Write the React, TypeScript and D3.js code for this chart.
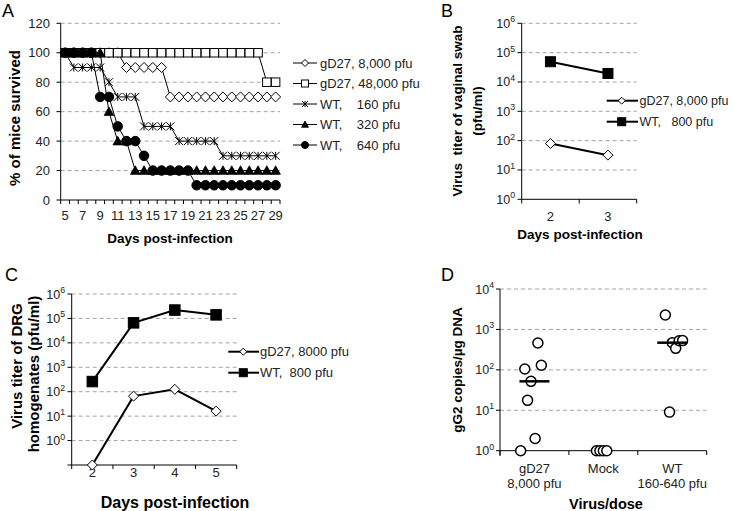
import React from 'react';
import * as d3 from 'd3';

// ---------- Panel A data ----------
const daysA = [5, 6, 7, 8, 9, 10, 11, 12, 13, 14, 15, 16, 17, 18, 19, 20, 21, 22, 23, 24, 25, 26, 27, 28, 29];
const gD27_8000 = [100, 100, 100, 100, 100, 100, 100, 90, 90, 90, 90, 90, 70, 70, 70, 70, 70, 70, 70, 70, 70, 70, 70, 70, 70];
const gD27_48000 = [100, 100, 100, 100, 100, 100, 100, 100, 100, 100, 100, 100, 100, 100, 100, 100, 100, 100, 100, 100, 100, 100, 100, 80, 80];
const wt160 = [100, 90, 90, 90, 90, 80, 70, 70, 70, 50, 50, 50, 50, 40, 40, 40, 40, 40, 30, 30, 30, 30, 30, 30, 30];
const wt320 = [100, 100, 100, 100, 100, 60, 40, 40, 20, 20, 20, 20, 20, 20, 20, 20, 20, 20, 20, 20, 20, 20, 20, 20, 20];
const wt640 = [100, 100, 100, 100, 70, 70, 50, 40, 40, 30, 20, 20, 20, 20, 20, 10, 10, 10, 10, 10, 10, 10, 10, 10, 10];
const ticksA = [0, 20, 40, 60, 80, 100, 120];
const legendA = ['gD27, 8,000 pfu', 'gD27, 48,000 pfu', 'WT,    160 pfu', 'WT,    320 pfu', 'WT,    640 pfu'];

// ---------- Panel B data ----------
const daysB = ['2', '3'];
const bGD27 = [80, 32];
const bWT = [49000, 19500];
const legendB = ['gD27, 8,000 pfu', 'WT,   800 pfu'];

// ---------- Panel C data ----------
const daysC = ['2', '3', '4', '5'];
const cGD27 = [0.1, 66, 125, 16];
const cWT = [260, 66000, 220000, 140000];
const legendC = ['gD27, 8000 pfu', 'WT,  800 pfu'];

// ---------- Panel D data ----------
const groupsD = ['gD27', 'Mock', 'WT'];
const groupLabels1 = ['gD27', 'Mock', 'WT'];
const groupLabels2 = ['8,000 pfu', '', '160-640 pfu'];
const dGD27 = [1, 2, 17.6, 52, 105, 130, 460];
const dGD27Jitter = [-0.2, 0.01, -0.1, -0.05, -0.14, 0.1, 0.05];
const dMock = [1, 1, 1, 1];
const dMockJitter = [-0.1, -0.05, 0, 0.05];
const dWT = [2270, 9, 470, 340, 525, 530];
const dWTJitter = [-0.1, -0.04, 0, 0.05, 0.1, 0.15];
const dMedians = [52, null, 470];

const FONT = '"Liberation Sans", Arial, Helvetica, sans-serif';
const GRID = '#9a9a9a';

type MarkerKind = 'diamond' | 'square' | 'star' | 'triangle' | 'circle';

function Marker({ kind, x, y, s, fill }: { kind: MarkerKind; x: number; y: number; s: number; fill: string }) {
  const h = s / 2;
  if (kind === 'diamond')
    return <path d={`M${x},${y - h}L${x + h},${y}L${x},${y + h}L${x - h},${y}Z`} fill={fill} stroke="#000" strokeWidth={1} />;
  if (kind === 'square')
    return <rect x={x - h} y={y - h} width={s} height={s} fill={fill} stroke="#000" strokeWidth={1} />;
  if (kind === 'triangle')
    return <path d={`M${x},${y - h}L${x + h},${y + h * 0.8}L${x - h},${y + h * 0.8}Z`} fill="#000" stroke="#000" strokeWidth={0.8} />;
  if (kind === 'circle') return <circle cx={x} cy={y} r={h} fill="#000" stroke="#000" />;
  return (
    <path
      d={`M${x - h},${y - h}L${x + h},${y + h}M${x - h},${y + h}L${x + h},${y - h}M${x},${y - h}L${x},${y + h}`}
      stroke="#000"
      strokeWidth={1}
      fill="none"
    />
  );
}

function Pow({ x, y, e, size = 12.5 }: { x: number; y: number; e: number; size?: number }) {
  return (
    <text x={x} y={y} textAnchor="end" fontSize={size} fill="#222">
      10
      <tspan dy={-5.5} fontSize={size * 0.7}>
        {e}
      </tspan>
    </text>
  );
}

function PanelA() {
  const x = d3.scaleBand<number>().domain(daysA).range([60.7, 280]).padding(0);
  const y = d3.scaleLinear().domain([0, 120]).range([200, 23.3]);
  const cx = (d: number) => (x(d) as number) + x.bandwidth() / 2;
  const series: { vals: number[]; kind: MarkerKind; fill: string; s: number }[] = [
    { vals: gD27_8000, kind: 'diamond', fill: '#fff', s: 10 },
    { vals: gD27_48000, kind: 'square', fill: '#fff', s: 8.5 },
    { vals: wt160, kind: 'star', fill: '#000', s: 8 },
    { vals: wt320, kind: 'triangle', fill: '#000', s: 9.5 },
    { vals: wt640, kind: 'circle', fill: '#000', s: 9.5 },
  ];
  const line = d3
    .line<number>()
    .x((_, i) => cx(daysA[i]))
    .y((v) => y(v));
  const boundaries = [...daysA.map((d) => x(d) as number), 280];
  return (
    <g fontFamily={FONT}>
      <text x={2} y={17} fontSize={18} fill="#000">A</text>
      {ticksA.filter((t) => t > 0).map((t) => (
        <line key={t} x1={60.7} x2={280} y1={y(t)} y2={y(t)} stroke={GRID} strokeDasharray="4,3" strokeWidth={0.9} />
      ))}
      <line x1={60.7} x2={60.7} y1={y(120)} y2={y(0)} stroke="#000" strokeWidth={1} />
      <line x1={60.7} x2={280} y1={y(0)} y2={y(0)} stroke="#000" strokeWidth={1} />
      {ticksA.map((t) => (
        <g key={t}>
          <line x1={56.5} x2={60.7} y1={y(t)} y2={y(t)} stroke="#000" />
          <text x={50} y={y(t) + 4.5} textAnchor="end" fontSize={13} fill="#222">{t}</text>
        </g>
      ))}
      {boundaries.map((b, i) => (
        <line key={i} x1={b} x2={b} y1={y(0)} y2={y(0) + 4} stroke="#000" />
      ))}
      {daysA.filter((d) => d % 2 === 1).map((d) => (
        <text key={d} x={cx(d)} y={219.5} textAnchor="middle" fontSize={13} fill="#222">{d}</text>
      ))}
      <text x={170} y={243} textAnchor="middle" fontSize={13.5} fontWeight="bold">Days post-infection</text>
      <text transform="translate(20,118) rotate(-90)" textAnchor="middle" fontSize={15} fontWeight="bold">% of mice survived</text>
      {series.map((s, si) => (
        <g key={si}>
          <path d={line(s.vals) as string} fill="none" stroke="#000" strokeWidth={1} />
          {s.vals.map((v, i) => (
            <Marker key={i} kind={s.kind} x={cx(daysA[i])} y={y(v)} s={s.s} fill={s.fill} />
          ))}
        </g>
      ))}
      {legendA.map((lab, i) => {
        const ly = 63 + i * 20.5;
        return (
          <g key={i}>
            <line x1={293} x2={317} y1={ly} y2={ly} stroke="#000" strokeWidth={1} />
            <Marker kind={series[i].kind} x={305} y={ly} s={series[i].kind === 'star' ? 6 : 7} fill={series[i].fill} />
            <text x={320} y={ly + 4.5} fontSize={13} fill="#222" style={{ whiteSpace: 'pre' }}>{lab}</text>
          </g>
        );
      })}
    </g>
  );
}

function PanelB() {
  const x = d3.scaleBand<string>().domain(daysB).range([521.7, 636.7]).padding(0);
  const y = d3.scaleLog().domain([1, 1e6]).range([199.3, 23.3]);
  const cx = (d: string) => (x(d) as number) + x.bandwidth() / 2;
  const decades = [0, 1, 2, 3, 4, 5, 6];
  const line = d3
    .line<number>()
    .x((_, i) => cx(daysB[i]))
    .y((v) => y(v));
  const bounds = [...daysB.map((d) => x(d) as number), 636.7];
  return (
    <g fontFamily={FONT}>
      <text x={441} y={17} fontSize={18}>B</text>
      {decades.filter((e) => e > 0).map((e) => (
        <line key={e} x1={521.7} x2={636.7} y1={y(10 ** e)} y2={y(10 ** e)} stroke={GRID} strokeDasharray="4,3" strokeWidth={0.9} />
      ))}
      <line x1={521.7} x2={521.7} y1={23.3} y2={199.3} stroke="#000" />
      <line x1={521.7} x2={636.7} y1={199.3} y2={199.3} stroke="#000" />
      {decades.map((e) => (
        <g key={e}>
          <line x1={517.5} x2={521.7} y1={y(10 ** e)} y2={y(10 ** e)} stroke="#000" />
          <Pow x={515} y={y(10 ** e) + 4.5} e={e} />
        </g>
      ))}
      {bounds.map((b, i) => (
        <line key={i} x1={b} x2={b} y1={199.3} y2={203.5} stroke="#000" />
      ))}
      {daysB.map((d) => (
        <text key={d} x={cx(d)} y={221} textAnchor="middle" fontSize={13} fill="#222">{d}</text>
      ))}
      <text x={580} y={239} textAnchor="middle" fontSize={13.5} fontWeight="bold">Days post-infection</text>
      <text transform="translate(462,111) rotate(-90)" textAnchor="middle" fontSize={13.5} fontWeight="bold" style={{ whiteSpace: 'pre' }}>Virus  titer of vaginal swab</text>
      <text transform="translate(482,111) rotate(-90)" textAnchor="middle" fontSize={13.5} fontWeight="bold">(pfu/ml)</text>
      <path d={line(bGD27) as string} fill="none" stroke="#000" strokeWidth={2} />
      <path d={line(bWT) as string} fill="none" stroke="#000" strokeWidth={2} />
      {bGD27.map((v, i) => (
        <Marker key={'g' + i} kind="diamond" x={cx(daysB[i])} y={y(v)} s={10} fill="#fff" />
      ))}
      {bWT.map((v, i) => (
        <Marker key={'w' + i} kind="square" x={cx(daysB[i])} y={y(v)} s={10} fill="#000" />
      ))}
      {legendB.map((lab, i) => {
        const ly = 100.7 + i * 21;
        return (
          <g key={i}>
            <line x1={606.7} x2={638} y1={ly} y2={ly} stroke="#000" strokeWidth={2} />
            <Marker kind={i === 0 ? 'diamond' : 'square'} x={621.7} y={ly} s={i === 0 ? 7 : 8} fill={i === 0 ? '#fff' : '#000'} />
            <text x={639.5} y={ly + 4.5} fontSize={12.5} fill="#222" style={{ whiteSpace: 'pre' }}>{lab}</text>
          </g>
        );
      })}
    </g>
  );
}

function PanelC() {
  const x = d3.scaleBand<string>().domain(daysC).range([71.7, 236.7]).padding(0);
  const y = d3.scaleLog().domain([0.1, 1e6]).range([465, 294]);
  const cx = (d: string) => (x(d) as number) + x.bandwidth() / 2;
  const decades = [0, 1, 2, 3, 4, 5, 6];
  const line = d3
    .line<number>()
    .x((_, i) => cx(daysC[i]))
    .y((v) => y(v));
  const bounds = [...daysC.map((d) => x(d) as number), 236.7];
  return (
    <g fontFamily={FONT}>
      <text x={5} y={281} fontSize={18}>C</text>
      {decades.map((e) => (
        <line key={e} x1={71.7} x2={236.7} y1={y(10 ** e)} y2={y(10 ** e)} stroke={GRID} strokeDasharray="4,3" strokeWidth={0.9} />
      ))}
      <line x1={71.7} x2={71.7} y1={294} y2={465} stroke="#000" />
      <line x1={71.7} x2={236.7} y1={465} y2={465} stroke="#000" />
      {[-1, ...decades].map((e) => (
        <line key={e} x1={67.5} x2={71.7} y1={y(10 ** e)} y2={y(10 ** e)} stroke="#000" />
      ))}
      {decades.map((e) => (
        <Pow key={e} x={65} y={y(10 ** e) + 4.5} e={e} />
      ))}
      {bounds.map((b, i) => (
        <line key={i} x1={b} x2={b} y1={465} y2={469} stroke="#000" />
      ))}
      {daysC.map((d) => (
        <text key={d} x={cx(d)} y={477} textAnchor="middle" fontSize={13} fill="#222">{d}</text>
      ))}
      <text x={175} y={508} textAnchor="middle" fontSize={16} fontWeight="bold">Days post-infection</text>
      <text transform="translate(22,366) rotate(-90)" textAnchor="middle" fontSize={15} fontWeight="bold">Virus titer of DRG</text>
      <text transform="translate(39,374) rotate(-90)" textAnchor="middle" fontSize={15} fontWeight="bold">homogenates (pfu/ml)</text>
      <path d={line(cGD27) as string} fill="none" stroke="#000" strokeWidth={2} />
      <path d={line(cWT) as string} fill="none" stroke="#000" strokeWidth={2} />
      {cGD27.map((v, i) => (
        <Marker key={'g' + i} kind="diamond" x={cx(daysC[i])} y={y(v)} s={10} fill="#fff" />
      ))}
      {cWT.map((v, i) => (
        <Marker key={'w' + i} kind="square" x={cx(daysC[i])} y={y(v)} s={10.5} fill="#000" />
      ))}
      {legendC.map((lab, i) => {
        const ly = 351.7 + i * 21;
        return (
          <g key={i}>
            <line x1={228.3} x2={259} y1={ly} y2={ly} stroke="#000" strokeWidth={2} />
            <Marker kind={i === 0 ? 'diamond' : 'square'} x={243.3} y={ly} s={i === 0 ? 7 : 8} fill={i === 0 ? '#fff' : '#000'} />
            <text x={260} y={ly + 4.5} fontSize={13} fill="#222" style={{ whiteSpace: 'pre' }}>{lab}</text>
          </g>
        );
      })}
    </g>
  );
}

function PanelD() {
  const x = d3.scaleBand<string>().domain(groupsD).range([500, 706.7]).padding(0);
  const y = d3.scaleLog().domain([1, 1e4]).range([450.7, 289]);
  const bw = x.bandwidth();
  const cx = (g: string) => (x(g) as number) + bw / 2;
  const decades = [0, 1, 2, 3, 4];
  const groups = [
    { g: 'gD27', vals: dGD27, jit: dGD27Jitter },
    { g: 'Mock', vals: dMock, jit: dMockJitter },
    { g: 'WT', vals: dWT, jit: dWTJitter },
  ];
  const bounds = [...groupsD.map((d) => x(d) as number), 706.7];
  return (
    <g fontFamily={FONT}>
      <text x={441} y={281} fontSize={18}>D</text>
      {decades.filter((e) => e > 0).map((e) => (
        <line key={e} x1={500} x2={706.7} y1={y(10 ** e)} y2={y(10 ** e)} stroke={GRID} strokeDasharray="4,3" strokeWidth={0.9} />
      ))}
      <line x1={500} x2={500} y1={289} y2={456} stroke="#000" />
      <line x1={500} x2={706.7} y1={450.7} y2={450.7} stroke="#000" />
      {decades.map((e) => (
        <g key={e}>
          <line x1={496} x2={500} y1={y(10 ** e)} y2={y(10 ** e)} stroke="#000" />
          <Pow x={494} y={y(10 ** e) + 4.5} e={e} />
        </g>
      ))}
      {bounds.map((b, i) => (
        <line key={i} x1={b} x2={b} y1={450.7} y2={455} stroke="#000" />
      ))}
      {groupsD.map((g, i) => (
        <g key={g}>
          <text x={cx(g)} y={472.5} textAnchor="middle" fontSize={13} fill="#222">{groupLabels1[i]}</text>
          {groupLabels2[i] && (
            <text x={cx(g)} y={488} textAnchor="middle" fontSize={13} fill="#222">{groupLabels2[i]}</text>
          )}
        </g>
      ))}
      <text x={606} y={509} textAnchor="middle" fontSize={14.5} fontWeight="bold">Virus/dose</text>
      <text transform="translate(462,370) rotate(-90)" textAnchor="middle" fontSize={13.5} fontWeight="bold">gG2 copies/µg DNA</text>
      {groups.map((gr) =>
        gr.vals.map((v, i) => (
          <circle key={gr.g + i} cx={cx(gr.g) + gr.jit[i] * bw} cy={y(v)} r={5} fill="#fff" stroke="#000" strokeWidth={1.5} />
        ))
      )}
      {dMedians.map((m, i) =>
        m == null ? null : (
          <line key={i} x1={cx(groupsD[i]) - 15} x2={cx(groupsD[i]) + 15} y1={y(m)} y2={y(m)} stroke="#000" strokeWidth={2.5} />
        )
      )}
    </g>
  );
}

export default function App() {
  return (
    <svg
      width={733}
      height={511}
      viewBox="0 0 733 511"
      style={{ position: 'absolute', left: 0, top: 0, background: '#fff' }}
    >
      <rect width={733} height={511} fill="#fff" />
      <PanelA />
      <PanelB />
      <PanelC />
      <PanelD />
    </svg>
  );
}
